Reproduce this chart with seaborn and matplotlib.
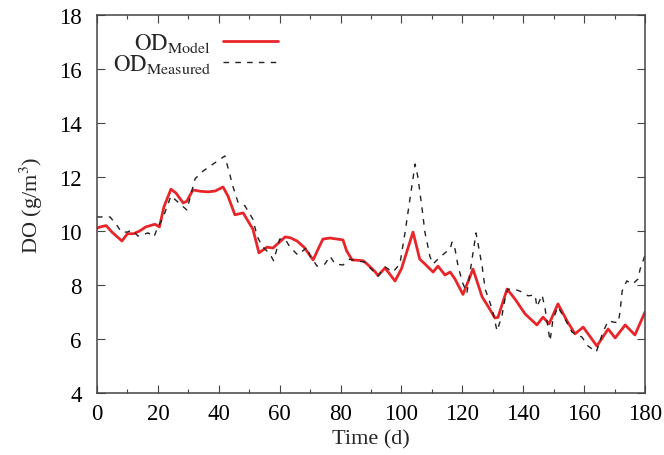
import numpy as np
import pandas as pd
import matplotlib
matplotlib.use("Agg")
import matplotlib.pyplot as plt
import seaborn as sns
from matplotlib.ticker import MultipleLocator

# ---- data ----
t_model = [0, 1, 3, 5, 8.2, 10, 12, 14, 16, 19,
           20.5, 22, 24.3, 26, 28.3, 29.5, 31.5, 34, 36.5, 38.8,
           41.4, 43, 45.3, 48, 51.2, 53.2, 55.8, 57.8, 61.8, 63.5,
           65.7, 68, 71, 72.5, 74.2, 76.5, 80.8, 82, 83.8, 87.4,
           89, 91.3, 92.3, 94.6, 97.9, 100, 103.8, 106, 107.7, 110.4,
           112, 114.3, 116, 117.6, 120.2, 123.5, 126.5, 128.4, 130.7, 131.7,
           134.7, 137.3, 140.6, 144.5, 146.5, 148.5, 151.4, 154.4, 157, 159.7,
           164.2, 167.9, 170.2, 173.5, 176.7, 180]
do_model = [10.1, 10.15, 10.2, 9.95, 9.63, 9.9, 9.9, 10.0, 10.15, 10.25,
            10.15, 10.9, 11.55, 11.4, 11.04, 11.1, 11.52, 11.47, 11.45, 11.48,
            11.63, 11.3, 10.6, 10.67, 10.07, 9.19, 9.4, 9.37, 9.78, 9.75,
            9.63, 9.4, 8.93, 9.3, 9.7, 9.74, 9.67, 9.26, 8.93, 8.9,
            8.75, 8.5, 8.35, 8.63, 8.15, 8.6, 9.96, 8.96, 8.78, 8.48,
            8.7, 8.37, 8.48, 8.22, 7.65, 8.59, 7.56, 7.22, 6.78, 6.8,
            7.85, 7.48, 6.93, 6.52, 6.81, 6.56, 7.3, 6.67, 6.19, 6.44,
            5.74, 6.37, 6.04, 6.52, 6.15, 7.0]

t_meas = [0, 4.3, 6.6, 8, 10, 11.5, 13.5, 16.8, 18.7, 20,
          21.7, 24.3, 26.6, 29.5, 32.2, 34.5, 37.1, 39.7, 42, 44.7,
          46.3, 48.6, 51.2, 52.6, 54.2, 56.8, 58, 60, 61.8, 63.4,
          66, 69, 70, 72.3, 74.9, 76.5, 78.2, 80.8, 83, 84.7,
          88, 90, 92.3, 94.6, 97.2, 99.5, 101.2, 102.8, 104.5, 105.4,
          106.8, 107.7, 109.4, 110.4, 112, 114.3, 116, 116.6, 117.6, 118.6,
          120, 121.5, 124.5, 126.5, 127.5, 129.8, 131.4, 133, 134, 135,
          138, 139.6, 141.6, 143.9, 144.5, 146.2, 147.2, 148.8, 149.8, 151.4,
          153.7, 156, 159.3, 161.3, 164, 166.2, 167.9, 169.5, 171.2, 171.8,
          172.5, 174, 176, 177.7, 178.4, 180]
do_meas = [10.52, 10.52, 10.2, 9.96, 9.96, 10.04, 9.81, 9.93, 9.78, 10.15,
           10.5, 11.3, 11.07, 10.78, 11.93, 12.19, 12.4, 12.6, 12.78, 11.63,
           11.07, 10.93, 10.44, 9.81, 9.44, 9.15, 8.9, 9.7, 9.7, 9.4,
           9.11, 9.4, 9.07, 8.7, 8.78, 9.07, 8.78, 8.74, 8.96, 8.9,
           8.85, 8.6, 8.33, 8.67, 8.48, 8.78, 9.96, 11.19, 12.48, 12.0,
           10.81, 9.96, 9.04, 8.78, 8.96, 9.19, 9.33, 9.59, 9.33, 8.7,
           8.11, 7.7, 9.93, 8.7, 7.85, 7.11, 6.3, 6.85, 7.48, 7.85,
           7.81, 7.74, 7.6, 7.63, 7.19, 7.63, 7.11, 5.93, 6.74, 7.19,
           6.74, 6.26, 6.07, 5.74, 5.52, 6.26, 6.67, 6.63, 6.6, 7.0,
           7.78, 8.15, 8.04, 8.22, 8.59, 9.1]

label_model = r"$\mathrm{OD}_{\mathrm{Model}}$"
label_meas = r"$\mathrm{OD}_{\mathrm{Measured}}$"
x_ticks = [0, 20, 40, 60, 80, 100, 120, 140, 160, 180]
y_ticks = [4, 6, 8, 10, 12, 14, 16, 18]

df_model = pd.DataFrame({"t": t_model, "do": do_model})
df_meas = pd.DataFrame({"t": t_meas, "do": do_meas})

sns.set_style("ticks")
plt.rcParams["font.family"] = ["Liberation Serif", "DejaVu Serif"]
plt.rcParams["mathtext.fontset"] = "stix"

fig = plt.figure(figsize=(6.64, 4.56), dpi=100)
ax = fig.add_axes([97 / 664, 1 - 394 / 456, 548 / 664, 378 / 456])

sns.lineplot(data=df_model, x="t", y="do", ax=ax, color="#e8262a",
             linewidth=2.0, label=label_model, sort=False)
sns.lineplot(data=df_meas, x="t", y="do", ax=ax, color="#222222",
             linewidth=1.0, linestyle=(0, (4, 4.5)), label=label_meas, sort=False)

ax.set_xlim(0, 180)
ax.set_ylim(4, 18)
ax.set_xticks(x_ticks)
ax.set_yticks(y_ticks)
ax.xaxis.set_minor_locator(MultipleLocator(10))
ax.tick_params(which="both", direction="in", top=True, right=True,
               colors="#444444", labelcolor="black", labelsize=16.5)
ax.tick_params(which="major", length=6, width=0.8)
ax.tick_params(which="minor", length=3, width=0.8)
ax.tick_params(axis="x", pad=7)
ax.tick_params(axis="y", pad=11)
for s in ax.spines.values():
    s.set_visible(True)
    s.set_color("#444444")
    s.set_linewidth(1.1)

ax.set_xlabel("Time (d)", fontsize=16, labelpad=4)
ax.set_ylabel(r"DO (g/m$^3$)", fontsize=16, labelpad=10)

leg = ax.legend(loc="upper left", bbox_to_anchor=(0.0, 1.0), frameon=False,
                markerfirst=False, fontsize=16.5, handlelength=2.4,
                handletextpad=0.5, labelspacing=-0.08, borderaxespad=0.3)

fig.savefig("out.png", dpi=100)
